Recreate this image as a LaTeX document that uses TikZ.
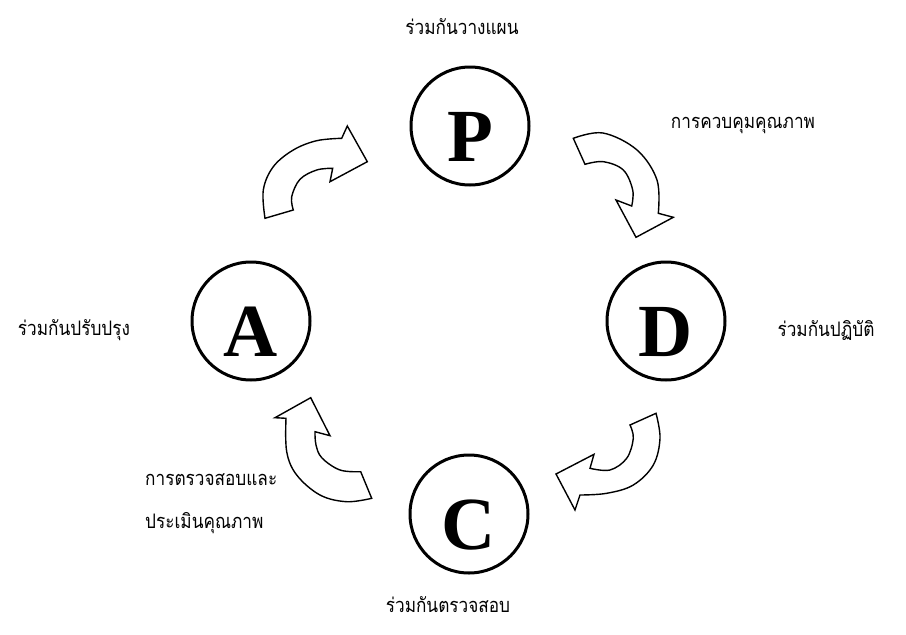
\documentclass[tikz,border=0pt]{standalone}
\usepackage{fontspec}
\setmainfont{Liberation Serif}
\newfontfamily\thaifont[Script=Thai,FakeStretch=0.86]{Loma}
\begin{document}
\begin{tikzpicture}[x=1pt,y=-1pt,
  ring/.style={circle,draw,line width=3pt,minimum size=118pt,inner sep=0pt},
  letter/.style={font=\fontsize{75}{75}\selectfont\bfseries,inner sep=0pt},
  lbl/.style={font=\thaifont\fontsize{20}{24}\selectfont,inner sep=0pt},
  blockarrow/.style={draw,line width=1.4pt,fill=white,line join=miter}]
\useasboundingbox (0,0) rectangle (906,635);
% circles
\node[ring] (P) at (470,126) {};
\node[ring] (A) at (251,321) {};
\node[ring] (D) at (666,321) {};
\node[ring] (C) at (469,514) {};
\node[letter,anchor=base] (Pl) at ([yshift=-35pt]P.center) {P};
\node[letter,anchor=base] (Al) at ([yshift=-35pt]A.center) {A};
\node[letter,anchor=base] (Dl) at ([yshift=-35pt]D.center) {D};
\node[letter,anchor=base] (Cl) at ([yshift=-35pt]C.center) {C};
% labels
\node[lbl] (tP) at (462,27) {ร่วมกันวางแผน};
\node[lbl] (tPD) at (743,125) {การควบคุมคุณภาพ};
\node[lbl] (tD) at (826,330) {ร่วมกันปฏิบัติ};
\node[lbl] (tA) at (74,330) {ร่วมกันปรับปรุง};
\node[lbl,anchor=west] (tCA1) at (145,480) {การตรวจสอบและ};
\node[lbl,anchor=west] (tCA2) at (145,523) {ประเมินคุณภาพ};
\node[lbl] (tC) at (448,605) {ร่วมกันตรวจสอบ};
% A -> P arrow
\draw[blockarrow] (293.3,210) -- (265,218.3)
  -- plot[smooth,tension=0.6] coordinates {(265,218.3) (263.3,190) (273.3,166.7) (293.3,150) (316.7,140.7) (341.7,138.3)}
  -- (347.3,126) -- (367.3,161.7) -- (330,181.7) -- (332.7,168.3)
  -- plot[smooth,tension=0.6] coordinates {(332.7,168.3) (316.7,170) (300,179.3) (291.7,196.7) (293.3,210)}
  -- cycle;
% P -> D arrow
\draw[blockarrow] (585,164.3) -- (573.3,138.3)
  -- plot[smooth,tension=0.6] coordinates {(573.3,138.3) (603,133) (637,150) (657,180) (658.3,213.3)}
  -- (673.3,217.3) -- (636,237.3) -- (616,200) -- (631.7,206)
  -- plot[smooth,tension=0.6] coordinates {(631.7,206) (632.7,190) (623.3,170) (603.3,161.7) (585,164.3)}
  -- cycle;
% D -> C arrow
\draw[blockarrow] (630,425) -- (656,413.3)
  -- plot[smooth,tension=0.6] coordinates {(656,413.3) (660,438.3) (653.3,465) (633.3,485) (606.7,493.3) (580,495)}
  -- (575,510) -- (556,474) -- (594,454.3) -- (590,468.3)
  -- plot[smooth,tension=0.6] coordinates {(590,468.3) (610,470) (626.7,458.3) (633.3,438.3) (630,425)}
  -- cycle;
% C -> A arrow
\draw[blockarrow] (360.7,471.7) -- (371.7,498.3)
  -- plot[smooth,tension=0.6] coordinates {(371.7,498.3) (346.7,501.7) (320,495) (296.7,475) (286.7,451.7) (286,418.3)}
  -- (275,417.7) -- (310.7,397.7) -- (330,435.7) -- (315,431.7)
  -- plot[smooth,tension=0.6] coordinates {(315,431.7) (316,445) (322,458) (340,470) (360.7,471.7)}
  -- cycle;
\end{tikzpicture}
\end{document}
